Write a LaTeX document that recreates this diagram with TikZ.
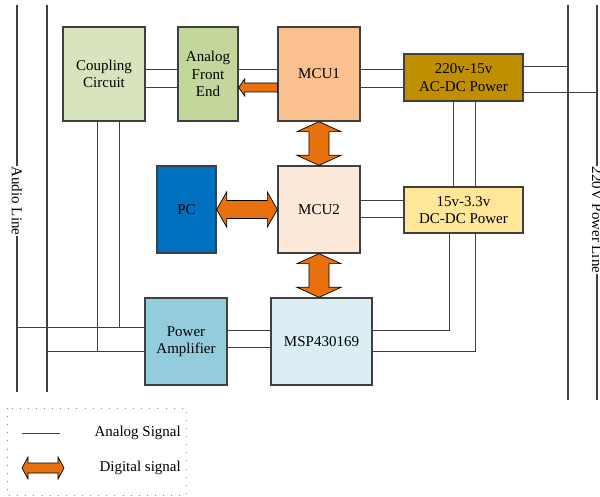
\documentclass[tikz,border=0pt]{standalone}
\usepackage{fontspec}
\setmainfont{Liberation Serif}
\usetikzlibrary{calc}
\definecolor{cplc}{HTML}{D7E4BD}
\definecolor{afec}{HTML}{C3D69B}
\definecolor{mcuac}{HTML}{FAC090}
\definecolor{acdcc}{HTML}{BF8F00}
\definecolor{pcc}{HTML}{0070C0}
\definecolor{mcubc}{HTML}{FDE9D9}
\definecolor{dcdcc}{HTML}{FFE699}
\definecolor{pac}{HTML}{93CDDD}
\definecolor{mspc}{HTML}{DAEEF3}
\definecolor{orgc}{HTML}{E8700E}
\definecolor{lnc}{HTML}{404040}
\newcommand{\dblarrow}[5]{%
 \filldraw[digi] (#1) -- ($(#1)!#5!(#2)!#4!90:(#2)$) -- ($(#1)!#5!(#2)!#3!90:(#2)$)
 -- ($(#2)!#5!(#1)!#3!-90:(#1)$) -- ($(#2)!#5!(#1)!#4!-90:(#1)$) -- (#2)
 -- ($(#2)!#5!(#1)!#4!90:(#1)$) -- ($(#2)!#5!(#1)!#3!90:(#1)$)
 -- ($(#1)!#5!(#2)!#3!-90:(#2)$) -- ($(#1)!#5!(#2)!#4!-90:(#2)$) -- cycle;}
\newcommand{\sglarrow}[5]{%
 \filldraw[digi] ($(#1)!#3!90:(#2)$) -- ($(#2)!#5!(#1)!#3!-90:(#1)$) -- ($(#2)!#5!(#1)!#4!-90:(#1)$) -- (#2)
 -- ($(#2)!#5!(#1)!#4!90:(#1)$) -- ($(#2)!#5!(#1)!#3!90:(#1)$) -- ($(#1)!#3!-90:(#2)$) -- cycle;}
\begin{document}
\begin{tikzpicture}[x=1pt,y=-1pt,
  font=\fontsize{15}{17.5}\selectfont,
  box/.style={draw=lnc, line width=1.3pt, inner sep=0pt, align=center},
  sig/.style={draw=lnc, line width=0.9pt},
  rail/.style={draw=lnc, line width=1.1pt},
  digi/.style={fill=orgc, draw=black, line width=0.7pt, line join=miter},
  legbox/.style={draw=gray, line width=0.8pt, dash pattern=on 0.9pt off 7.2pt}]
\useasboundingbox (0,0) rectangle (600,497);

% boxes
\node[box, fill=cplc, minimum width=82pt, minimum height=94pt] (coup) at (104,74) {Coupling\\Circuit};
\node[box, fill=afec, minimum width=60pt, minimum height=94pt] (afe) at (208,74) {Analog\\Front\\End};
\node[box, fill=mcuac, minimum width=82pt, minimum height=94pt] (mcu1) at (319,74) {MCU1};
\node[box, fill=acdcc, minimum width=119pt, minimum height=47pt] (acdc) at (463.5,77.5) {220v-15v\\AC-DC Power};
\node[box, fill=pcc, minimum width=59pt, minimum height=87pt] (pc) at (186.5,209.5) {PC};
\node[box, fill=mcubc, minimum width=82pt, minimum height=87pt] (mcu2) at (319,209.5) {MCU2};
\node[box, fill=dcdcc, minimum width=119pt, minimum height=46pt] (dcdc) at (463.5,210) {15v-3.3v\\DC-DC Power};
\node[box, fill=pac, minimum width=82pt, minimum height=87pt] (pa) at (186,341.5) {Power\\Amplifier};
\node[box, fill=mspc, minimum width=101pt, minimum height=87pt] (msp) at (321.5,341.5) {MSP430169};

% rails
\coordinate (al1t) at (17,5);  \coordinate (al1b) at (17,392);
\coordinate (al2t) at (47,5);  \coordinate (al2b) at (47,392);
\coordinate (pl1t) at (568,5); \coordinate (pl1b) at (568,400);
\coordinate (pl2t) at (597,5); \coordinate (pl2b) at (597,400);
\node[rotate=-90, inner sep=0.5pt] (audio) at (17,201) {Audio Line};
\node[rotate=-90, inner sep=0.5pt] (power) at (597,220) {220V Power Line};
\draw[rail] (al1t) -- (audio.west);
\draw[rail] (audio.east) -- (al1b);
\draw[rail] (al2t) -- (al2b);
\draw[rail] (pl1t) -- (pl1b);
\draw[rail] (pl2t) -- (power.west);
\draw[rail] (power.east) -- (pl2b);

% analog connections
\draw[sig] (coup.east |- 0,69) -- (afe.west |- 0,69);
\draw[sig] (coup.east |- 0,87) -- (afe.west |- 0,87);
\draw[sig] (afe.east |- 0,69) -- (mcu1.west |- 0,69);
\draw[sig] (mcu1.east |- 0,69) -- (acdc.west |- 0,69);
\draw[sig] (mcu1.east |- 0,87) -- (acdc.west |- 0,87);
\draw[sig] (acdc.east |- 0,66) -- (pl1t |- 0,66);
\draw[sig] (acdc.east |- 0,92) -- (pl2t |- 0,92);
\draw[sig] (acdc.south -| 453,0) -- (dcdc.north -| 453,0);
\draw[sig] (acdc.south -| 475,0) -- (dcdc.north -| 475,0);
\draw[sig] (mcu2.east |- 0,200) -- (dcdc.west |- 0,200);
\draw[sig] (mcu2.east |- 0,217) -- (dcdc.west |- 0,217);
\draw[sig] (dcdc.south -| 449,0) |- (msp.east |- 0,330);
\draw[sig] (dcdc.south -| 475,0) |- (msp.east |- 0,351);
\draw[sig] (msp.west |- 0,330) -- (pa.east |- 0,330);
\draw[sig] (msp.west |- 0,347) -- (pa.east |- 0,347);
\draw[sig] (pa.west |- 0,327) -- (al1t |- 0,327);
\draw[sig] (pa.west |- 0,351) -- (al2t |- 0,351);
\draw[sig] (coup.south -| 97,0) -- (97,351);
\draw[sig] (coup.south -| 119,0) -- (119,327);

% digital arrows
\coordinate (s1) at (mcu1.west |- 0,87.5);
\coordinate (s2) at (afe.east |- 0,87.5);
\sglarrow{s1}{s2}{4.5pt}{8.5pt}{6pt}
\dblarrow{mcu1.south}{mcu2.north}{10pt}{22pt}{10pt}
\coordinate (m3) at (mcu2.south |- msp.north);
\dblarrow{mcu2.south}{m3}{10pt}{22pt}{10pt}
\dblarrow{pc.east}{mcu2.west}{9pt}{17.5pt}{10pt}

% legend
\draw[legbox] (7,408) rectangle (186,495);
\coordinate (la) at (22,433); \coordinate (lb) at (60,433);
\draw[sig] (la) -- (lb);
\node[anchor=east, inner sep=0pt] (lt1) at (181,433) {Analog Signal};
\coordinate (da) at (22,468); \coordinate (db) at (64,468);
\dblarrow{da}{db}{5pt}{11pt}{6pt}
\node[anchor=east, inner sep=0pt] (lt2) at (181,468) {Digital signal};
\end{tikzpicture}
\end{document}
